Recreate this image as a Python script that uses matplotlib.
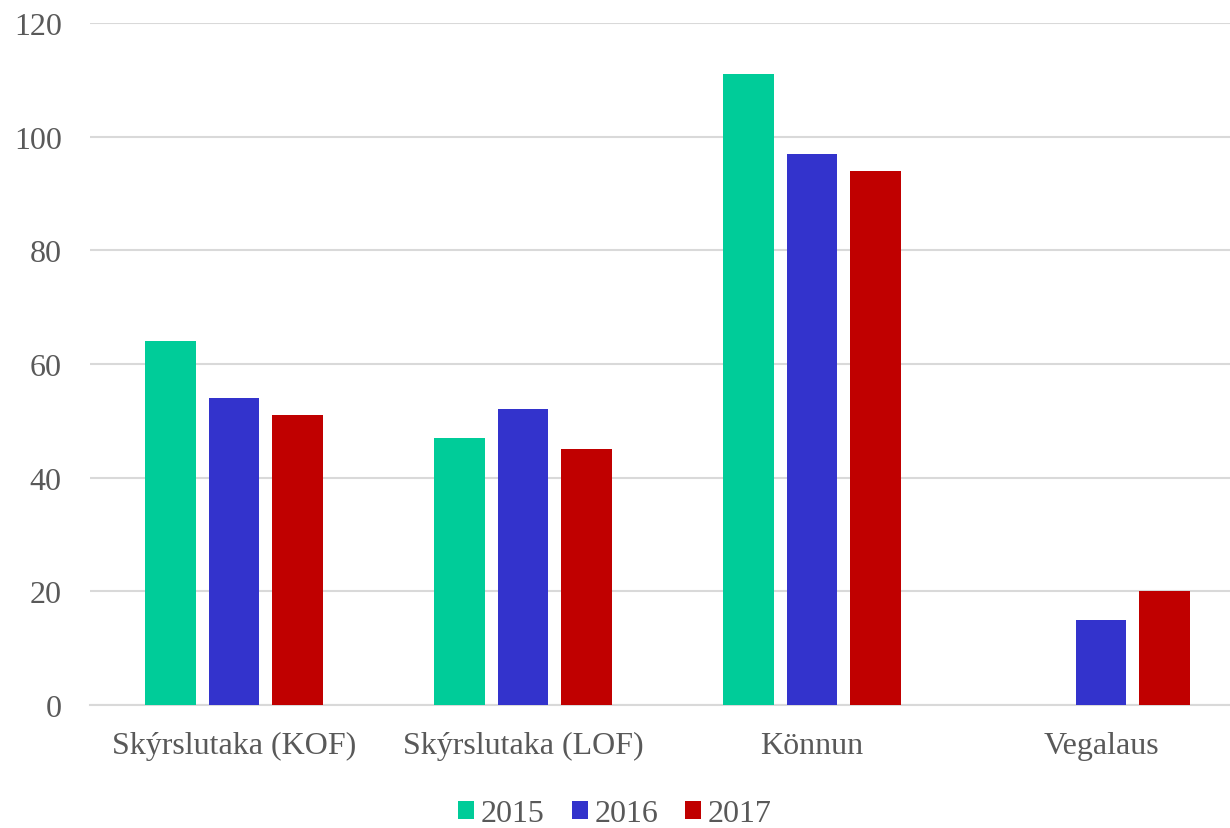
import matplotlib
matplotlib.use('Agg')
import matplotlib.pyplot as plt
import numpy as np

categories = ['Skýrslutaka (KOF)', 'Skýrslutaka (LOF)', 'Könnun', 'Vegalaus']
years = ['2015', '2016', '2017']
v2015 = [64, 47, 111, 0]
v2016 = [54, 52, 97, 15]
v2017 = [51, 45, 94, 20]
colors = ['#00CC99', '#3333CC', '#C00000']

plt.rcParams['font.family'] = ['Liberation Serif', 'DejaVu Serif']

fig = plt.figure(figsize=(12.3, 8.29), dpi=100)
ax = fig.add_axes([89.5 / 1230, 123 / 829, (1230 - 89.5) / 1230, (706 - 24) / 829])

x = np.arange(len(categories))
w = 0.176
off = 0.221
for i, (vals, yr) in enumerate(zip([v2015, v2016, v2017], years)):
    ax.bar(x + (i - 1) * off, vals, width=w, color=colors[i], label=yr, zorder=3)

ax.set_xlim(-0.5, -0.5 + (1230 - 89.5) / 289)
ax.set_ylim(0, 120)
ax.set_yticks(range(0, 121, 20))
ax.set_xticks(x)
ax.set_xticklabels(categories)
ax.tick_params(axis='both', length=0, labelsize=23, colors='#595959')
ax.tick_params(axis='x', pad=19)
ax.tick_params(axis='y', pad=20)
ax.grid(axis='y', color='#D9D9D9', linewidth=1.5, zorder=0)
for s in ['top', 'right', 'left']:
    ax.spines[s].set_visible(False)
ax.spines['bottom'].set_color('#D9D9D9')
ax.spines['bottom'].set_linewidth(1.5)

fig.legend(loc='center', bbox_to_anchor=(0.5, 14 / 829), ncol=3, frameon=False,
           fontsize=23, handlelength=0.5, handleheight=0.5, handletextpad=0.2,
           columnspacing=0.85, labelcolor='#595959', borderpad=0)

fig.savefig('out.png', dpi=100)
